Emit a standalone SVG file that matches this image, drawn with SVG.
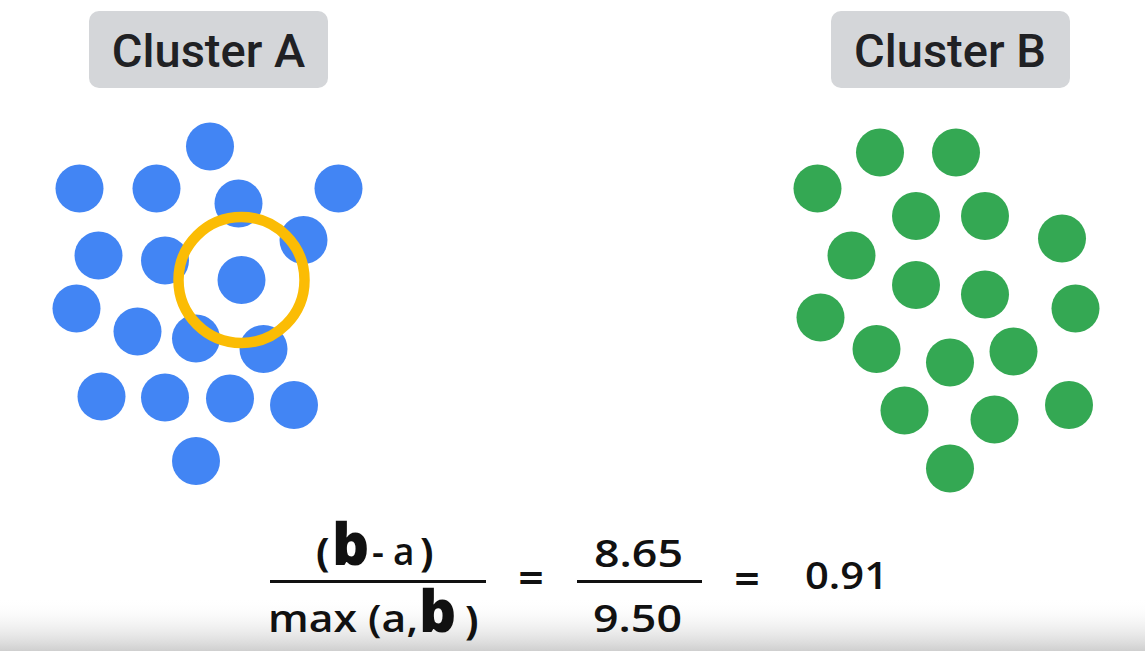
<svg xmlns="http://www.w3.org/2000/svg" width="1145" height="651" viewBox="0 0 1145 651">
  <defs>
    <linearGradient id="shade" x1="0" y1="0" x2="0" y2="1">
      <stop offset="0" stop-color="#ffffff" stop-opacity="0"/>
      <stop offset="1" stop-color="#cfcfcf"/>
    </linearGradient>
    <style>
      .label-box { fill: #d4d6d9; }
      .label-text { font-family: Roboto, "Liberation Sans", sans-serif; font-weight: 500; font-size: 47px; fill: #202124; text-anchor: middle; }
      .blue circle { fill: #4285f4; }
      .green circle { fill: #34a853; }
      .ring { fill: none; stroke: #fbbc04; stroke-width: 10.5; }
      .f { font-family: "Open Sans", "DejaVu Sans", sans-serif; font-weight: 600; font-size: 37px; fill: #111111; }
      .p { font-family: "Open Sans", "DejaVu Sans", sans-serif; font-weight: 700; font-size: 40px; fill: #111111; }
      .fb { font-family: "Open Sans", "DejaVu Sans", sans-serif; font-weight: 800; font-size: 58px; fill: #111111; }
      .eq { font-family: "DejaVu Sans", sans-serif; font-weight: bold; font-size: 34px; fill: #111111; text-anchor: middle; }
      .bar { fill: #111111; }
    </style>
  </defs>
  <rect x="0" y="0" width="1145" height="651" fill="#ffffff"/>
  <rect x="0" y="598" width="1145" height="53" fill="url(#shade)"/>

  <g id="label-cluster-a">
    <rect class="label-box" x="89" y="11" width="239" height="77" rx="10"/>
    <text class="label-text" x="208.5" y="66.5">Cluster A</text>
  </g>
  <g id="label-cluster-b">
    <rect class="label-box" x="831" y="11" width="239" height="77" rx="10"/>
    <text class="label-text" x="950" y="66.5">Cluster B</text>
  </g>

  <g id="cluster-a" class="blue">
    <circle cx="210" cy="146.5" r="24"/>
    <circle cx="79.5" cy="188.5" r="24"/>
    <circle cx="156.5" cy="188.5" r="24"/>
    <circle cx="238.5" cy="203.5" r="24"/>
    <circle cx="338.5" cy="188.5" r="24"/>
    <circle cx="98.5" cy="255.5" r="24"/>
    <circle cx="165" cy="260.5" r="24"/>
    <circle cx="303.5" cy="240" r="24"/>
    <circle cx="241.5" cy="280" r="24"/>
    <circle cx="76.5" cy="308.5" r="24"/>
    <circle cx="137.5" cy="331.5" r="24"/>
    <circle cx="196" cy="338.5" r="24"/>
    <circle cx="263.5" cy="349" r="24"/>
    <circle cx="101.5" cy="396.5" r="24"/>
    <circle cx="165" cy="397.5" r="24"/>
    <circle cx="230" cy="398.5" r="24"/>
    <circle cx="294" cy="405" r="24"/>
    <circle cx="196" cy="461" r="24"/>
  </g>

  <g id="selected-point-ring">
    <circle class="ring" cx="241.5" cy="280" r="63"/>
  </g>

  <g id="cluster-b" class="green">
    <circle cx="817.5" cy="188.5" r="24"/>
    <circle cx="880" cy="152.5" r="24"/>
    <circle cx="956" cy="152.5" r="24"/>
    <circle cx="916" cy="216" r="24"/>
    <circle cx="985" cy="216" r="24"/>
    <circle cx="1062" cy="238.5" r="24"/>
    <circle cx="851.5" cy="255.5" r="24"/>
    <circle cx="916" cy="285" r="24"/>
    <circle cx="985" cy="294.5" r="24"/>
    <circle cx="1075.5" cy="308.5" r="24"/>
    <circle cx="820.5" cy="317.5" r="24"/>
    <circle cx="876.5" cy="349" r="24"/>
    <circle cx="950" cy="362.5" r="24"/>
    <circle cx="1013.5" cy="351.5" r="24"/>
    <circle cx="904.5" cy="410.5" r="24"/>
    <circle cx="994.5" cy="419.5" r="24"/>
    <circle cx="1069" cy="405" r="24"/>
    <circle cx="950" cy="468.5" r="24"/>
  </g>

  <g id="formula">
    <text class="p" x="316" y="566">(</text>
    <text class="fb" x="332" y="565">b</text>
    <text class="f" x="372" y="565">-</text>
    <text class="f" x="393" y="565">a</text>
    <text class="p" x="420" y="566">)</text>
    <rect class="bar" x="270" y="580" width="216" height="3"/>
    <text class="f" x="268" y="632" textLength="150" lengthAdjust="spacingAndGlyphs">max (a,</text>
    <text class="fb" x="419" y="632">b</text>
    <text class="p" x="465" y="634">)</text>

    <text class="eq" x="531" y="589">=</text>

    <text class="f" x="594" y="567" textLength="89" lengthAdjust="spacingAndGlyphs">8.65</text>
    <rect class="bar" x="577" y="580" width="125" height="3"/>
    <text class="f" x="593" y="632" textLength="89" lengthAdjust="spacingAndGlyphs">9.50</text>

    <text class="eq" x="747" y="590">=</text>
    <text class="f" x="805" y="589" textLength="83" lengthAdjust="spacingAndGlyphs">0.91</text>
  </g>
</svg>
